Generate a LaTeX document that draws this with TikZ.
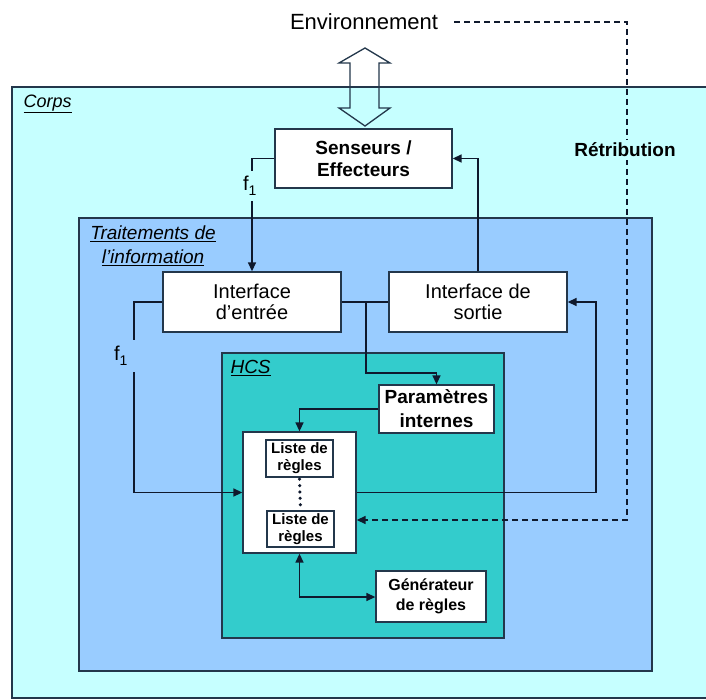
\documentclass[tikz,border=0pt]{standalone}
\usepackage{fontspec}
\setmainfont{Liberation Sans}
\usetikzlibrary{arrows.meta}
\definecolor{corpsc}{RGB}{198,255,255}
\definecolor{traitc}{RGB}{153,204,255}
\definecolor{hcsc}{RGB}{51,204,204}
\definecolor{edgec}{RGB}{35,55,75}
\definecolor{linec}{RGB}{15,25,45}
\tikzset{
  container/.style={draw=edgec, line width=1.3pt, inner sep=0pt},
  wbox/.style={draw=edgec, fill=white, line width=1.3pt, inner sep=0pt, align=center},
  conn/.style={draw=linec, line width=1.4pt},
  arr/.style={conn, -{Triangle[length=9pt,width=8pt]}},
  darr/.style={conn, {Triangle[length=9pt,width=8pt]}-{Triangle[length=9pt,width=8pt]}},
  dasharr/.style={conn, dash pattern=on 6pt off 4pt, -{Triangle[length=9pt,width=8pt]}},
  boldlbl/.style={font=\fontsize{19}{22}\selectfont\bfseries},
  reglbl/.style={font=\fontsize{20}{21}\selectfont},
}
\begin{document}
\begin{tikzpicture}[x=1pt,y=-1pt]
\useasboundingbox (0,0) rectangle (706,700);
\fill[white] (0,0) rectangle (706,700);

% containers
\node[container, fill=corpsc, minimum width=698pt, minimum height=611pt] (corps) at (361,392.5) {};
\node[container, fill=traitc, minimum width=573pt, minimum height=453pt] (trait) at (365.5,444.5) {};
\node[container, fill=hcsc, minimum width=282pt, minimum height=285pt] (hcs) at (363,495.5) {};

\node[anchor=west, font=\fontsize{18}{20}\selectfont\itshape] (corpslbl) at (20,104) {\underline{Corps}};
\node[align=center, font=\fontsize{19}{24}\selectfont\itshape] (traitlbl) at (153,246) {\underline{Traitements de}\\\underline{l’information}};
\node[anchor=west, font=\fontsize{19}{20}\selectfont\itshape] (hcslbl) at (227,368) {\underline{HCS}};

% top
\node[font=\fontsize{22}{24}\selectfont] (env) at (364,22) {Environnement};
\draw[edgec, line width=1.3pt, line join=miter]
  (365,48) -- (390,63) -- (379,63) -- (379,108) -- (390,108) -- (365,126)
  -- (339,108) -- (350,108) -- (350,63) -- (339,63) -- cycle;

% boxes
\node[wbox, boldlbl, minimum width=177pt, minimum height=59pt] (sens) at (363.5,158.5) {Senseurs /\\Effecteurs};
\node[wbox, reglbl, minimum width=178pt, minimum height=60pt] (ie) at (252,302) {Interface\\d’entrée};
\node[wbox, reglbl, minimum width=178pt, minimum height=60pt] (is) at (478,302) {Interface de\\sortie};
\node[wbox, font=\fontsize{19}{24}\selectfont\bfseries, minimum width=115pt, minimum height=48pt] (param) at (436.5,409) {Paramètres\\internes};
\node[wbox, minimum width=113pt, minimum height=121pt] (regles) at (299.5,492.5) {};
\node[wbox, font=\fontsize{15}{17}\selectfont\bfseries, minimum width=67pt, minimum height=37pt] (l1) at (299.5,458.5) {Liste de\\règles};
\node[wbox, font=\fontsize{15}{17}\selectfont\bfseries, minimum width=67pt, minimum height=36pt] (l2) at (300.5,529) {Liste de\\règles};
\node[wbox, font=\fontsize{16}{20}\selectfont\bfseries, minimum width=110pt, minimum height=51pt] (gen) at (431,596.5) {Générateur\\de règles};

% dotted link between lists
\draw[linec, line width=3.5pt, line cap=round, dash pattern=on 0pt off 6.4pt] ([yshift=-1.5pt]l1.south) -- (l2.north);

% connectors
\draw[arr] (sens.west) -| (ie.north);
\draw[arr] (is.north) |- (sens.east);
\draw[conn] (ie.east) -- (is.west);
\coordinate (br) at (366,302);
\coordinate (brd) at (366,373);
\draw[arr] (br) -- (brd) -| (param.north);
\draw[arr] (param.west) -| (regles.north);
\coordinate (c1) at (134,302);
\draw[arr] (ie.west) -- (c1) |- (regles.west);
\coordinate (c2) at (596,492.5);
\draw[arr] (regles.east) -- (c2) |- (is.east);
\coordinate (g1) at (299.5,597);
\draw[darr] (regles.south) -- (g1) -- (gen.west |- g1);

% f1 labels
\node[fill=corpsc, inner sep=2pt, text width=14pt, align=left, minimum height=30pt, font=\fontsize{20}{20}\selectfont] (f1a) at (250,186) {f\raisebox{-5pt}{\fontsize{14}{14}\selectfont 1}};
\node[fill=traitc, inner sep=2pt, text width=20pt, align=left, minimum height=32pt, font=\fontsize{20}{20}\selectfont] (f1b) at (124,356) {f\raisebox{-5pt}{\fontsize{14}{14}\selectfont 1}};

% retribution
\coordinate (d0) at (454,22);
\coordinate (d1) at (627,22);
\coordinate (d2) at (627,520);
\draw[dasharr] (d0) -- (d1) -- (d2) -- (regles.east |- d2);
\node[fill=corpsc, inner sep=3pt, font=\fontsize{19}{20}\selectfont\bfseries] (retr) at (625,150) {Rétribution};
\end{tikzpicture}
\end{document}
